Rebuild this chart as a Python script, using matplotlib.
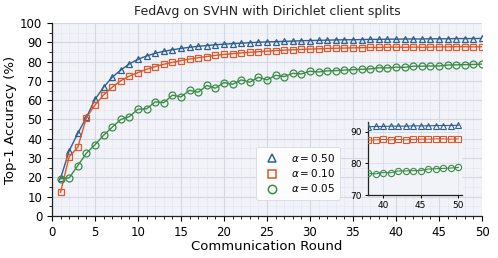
import matplotlib
matplotlib.use("Agg")
import matplotlib.pyplot as plt
from matplotlib.lines import Line2D
from matplotlib.ticker import MultipleLocator

rounds = list(range(1, 51))

acc_a050 = [19.5, 33.8, 42.8, 51.1, 60.4, 66.7, 71.9, 75.6, 78.8, 81.2,
            82.9, 84.3, 85.3, 86.1, 86.8, 87.4, 87.9, 88.3, 88.7, 89.0,
            89.3, 89.5, 89.8, 90.0, 90.2, 90.3, 90.5, 90.6, 90.8, 90.9,
            91.0, 91.1, 91.2, 91.3, 91.3, 91.4, 91.5, 91.5, 91.6, 91.6,
            91.7, 91.7, 91.7, 91.8, 91.8, 91.8, 91.9, 91.9, 91.9, 92.0]

acc_a010 = [12.3, 30.7, 35.6, 50.9, 57.5, 62.7, 66.7, 70.1, 72.5, 74.3,
            76.0, 77.4, 78.6, 79.6, 80.5, 81.3, 82.0, 82.6, 83.2, 83.7,
            84.1, 84.5, 84.8, 85.1, 85.4, 85.7, 85.9, 86.1, 86.3, 86.5,
            86.6, 86.8, 86.9, 87.0, 87.1, 87.2, 87.3, 87.3, 87.4, 87.5,
            87.4, 87.5, 87.4, 87.5, 87.6, 87.6, 87.7, 87.7, 87.6, 87.7]

acc_a005 = [19.3, 19.7, 26.1, 32.5, 36.9, 41.8, 46.0, 50.0, 51.5, 55.3,
            55.5, 59.1, 58.7, 62.6, 61.7, 65.1, 64.1, 67.6, 66.2, 69.1,
            68.2, 70.5, 69.3, 71.9, 70.5, 72.9, 72.2, 73.9, 73.6, 75.0,
            74.6, 75.2, 75.3, 75.6, 75.8, 76.0, 76.2, 76.8, 76.7, 77.1,
            77.0, 77.6, 77.6, 77.7, 77.7, 78.2, 78.3, 78.4, 78.5, 78.7]

labels = [r"$\alpha = 0.50$", r"$\alpha = 0.10$", r"$\alpha = 0.05$"]
colors = ["#2f5f8c", "#db5a2b", "#3b8c47"]
markers = ["^", "s", "o"]
series = [acc_a050, acc_a010, acc_a005]

BG = "#f2f3f9"
GRID = "#d3d8e5"

fig = plt.figure(figsize=(4.98, 2.58), dpi=100)
ax = fig.add_axes([0.1044, 0.163, 0.8636, 0.748])
ax.set_facecolor(BG)

for y, c, m in zip(series, colors, markers):
    ax.plot(rounds, y, color=c, lw=1.0, marker=m, ms=5, mfc="none",
            mec=c, mew=0.9, zorder=3)

ax.set_xlim(0, 50)
ax.set_ylim(0, 100)
ax.xaxis.set_major_locator(MultipleLocator(5))
ax.xaxis.set_minor_locator(MultipleLocator(1))
ax.yaxis.set_major_locator(MultipleLocator(10))
ax.yaxis.set_minor_locator(MultipleLocator(5))
ax.grid(True, which="major", color=GRID, lw=0.8)
ax.grid(True, which="minor", color=GRID, lw=0.5, ls=":")
ax.set_axisbelow(True)
for s in ("top", "right"):
    ax.spines[s].set_visible(False)
for s in ("left", "bottom"):
    ax.spines[s].set_color("#222222")
    ax.spines[s].set_linewidth(0.9)
ax.tick_params(axis="both", which="major", labelsize=8.5, length=3.5,
               width=0.8, direction="out")
ax.tick_params(axis="both", which="minor", length=2, width=0.6,
               direction="out")

ax.set_title("FedAvg on SVHN with Dirichlet client splits", fontsize=9,
             color="#222222", pad=6)
ax.set_xlabel("Communication Round", fontsize=9.5, labelpad=1)
ax.set_ylabel("Top-1 Accuracy (%)", fontsize=9.5, labelpad=2)

handles = [Line2D([], [], ls="none", marker=m, ms=6, mfc="none", mec=c,
                  mew=1.1) for c, m in zip(colors, markers)]
leg = ax.legend(handles, labels, loc="upper left",
                bbox_to_anchor=(0.462, 0.385), fontsize=7.5, frameon=True,
                handletextpad=0.9, borderpad=0.5, labelspacing=0.3,
                fancybox=True)
leg.get_frame().set_edgecolor("#d8dbe3")
leg.get_frame().set_facecolor("white")
leg.get_frame().set_alpha(0.9)
leg.get_frame().set_linewidth(0.7)

# zoomed inset on late rounds
ins = fig.add_axes([0.739, 0.244, 0.189, 0.283])
ins.set_facecolor(BG)
for y, c, m in zip(series, colors, markers):
    ins.plot(rounds[37:], y[37:], color=c, lw=0.8, marker=m, ms=4.5,
             mfc="none", mec=c, mew=0.8, zorder=3)
ins.set_xlim(38, 50.5)
ins.set_ylim(70, 93)
ins.set_xticks([40, 45, 50])
ins.set_yticks([70, 80, 90])
ins.grid(True, color=GRID, lw=0.5)
ins.set_axisbelow(True)
for s in ("top", "right"):
    ins.spines[s].set_visible(False)
for s in ("left", "bottom"):
    ins.spines[s].set_color("#222222")
    ins.spines[s].set_linewidth(0.9)
ins.tick_params(axis="both", labelsize=6.5, length=2.5, width=0.7, pad=2)

fig.savefig("out.png", dpi=100)
